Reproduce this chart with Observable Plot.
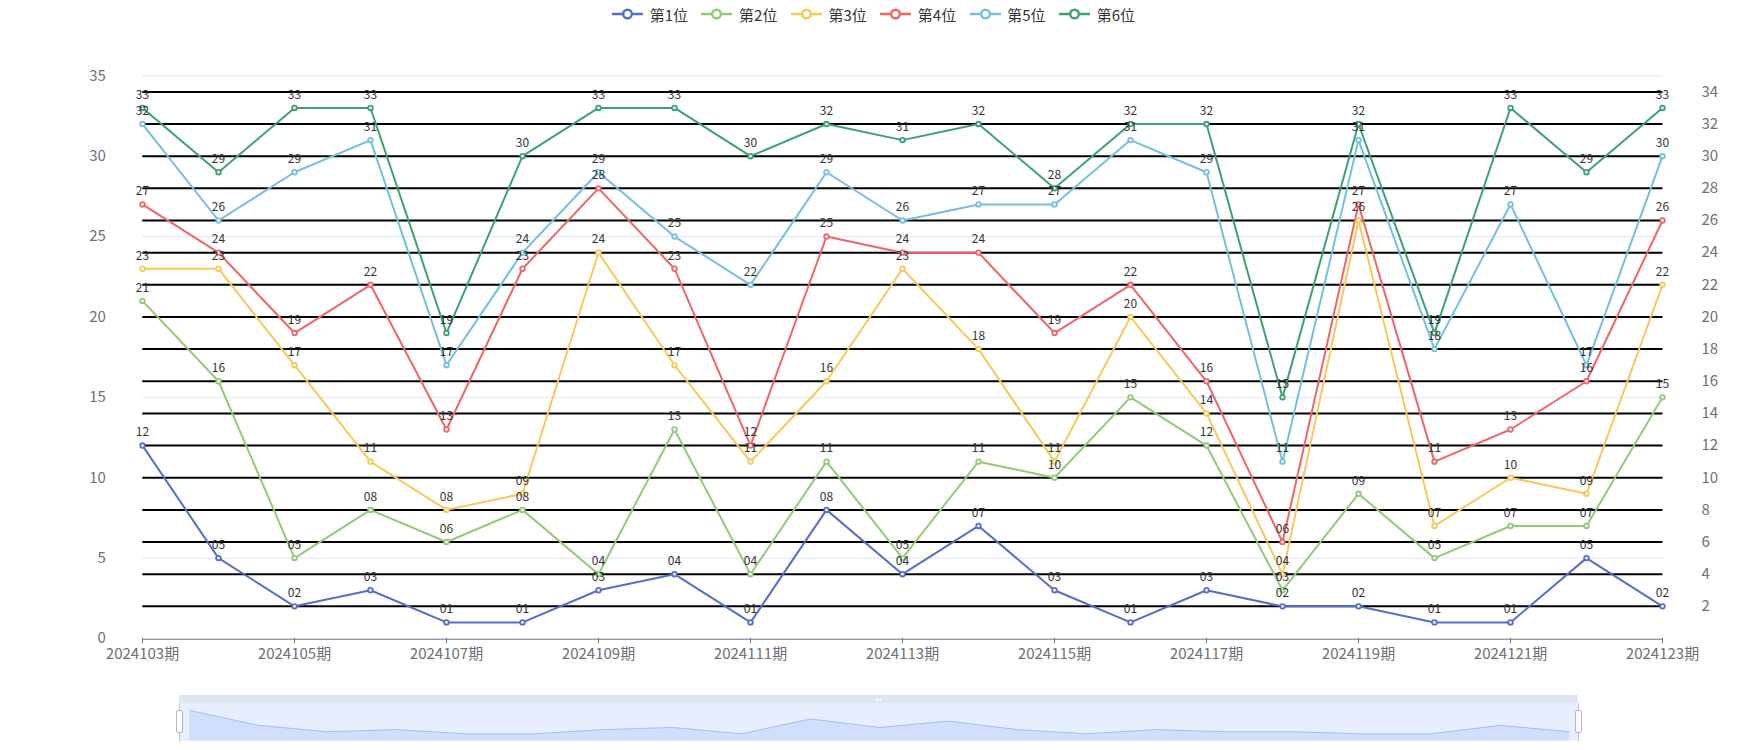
<!DOCTYPE html>
<html>
<head>
<meta charset="utf-8">
<script src="https://cdn.jsdelivr.net/npm/d3@7"></script>
<script src="https://cdn.jsdelivr.net/npm/@observablehq/plot@0.6"></script>
<style>
  html, body { margin: 0; padding: 0; background: #fff; }
  body { width: 1750px; height: 750px; overflow: hidden; position: relative;
         font-family: "Microsoft YaHei", "Noto Sans CJK SC", sans-serif; }
  #legend { position: absolute; left: 612px; top: 0; height: 28px; display: flex; align-items: center; }
  .item { display: flex; align-items: center; width: 89.4px; font-size: 15px; color: #333; white-space: nowrap; }
  .item svg { margin-right: 6.7px; flex: none; }
  #chart { position: absolute; left: 0; top: 0; }
  .abs { position: absolute; box-sizing: border-box; }
</style>
</head>
<body>
<div id="legend"></div>
<div id="chart"></div>
<div id="zoom"></div>
<script>
// ---- data ----
const periods = ["2024103期","2024104期","2024105期","2024106期","2024107期","2024108期","2024109期",
  "2024110期","2024111期","2024112期","2024113期","2024114期","2024115期","2024116期","2024117期",
  "2024118期","2024119期","2024120期","2024121期","2024122期","2024123期"];
const seriesNames = ["第1位","第2位","第3位","第4位","第5位","第6位"];
const seriesColors = ["#5470c6","#91cc75","#fac858","#ee6666","#73c0de","#3ba272"];
const pos1 = [12, 5, 2, 3, 1, 1, 3, 4, 1, 8, 4, 7, 3, 1, 3, 2, 2, 1, 1, 5, 2];
const pos2 = [21,16, 5, 8, 6, 8, 4,13, 4,11, 5,11,10,15,12, 3, 9, 5, 7, 7,15];
const pos3 = [23,23,17,11, 8, 9,24,17,11,16,23,18,11,20,14, 4,26, 7,10, 9,22];
const pos4 = [27,24,19,22,13,23,28,23,12,25,24,24,19,22,16, 6,27,11,13,16,26];
const pos5 = [32,26,29,31,17,24,29,25,22,29,26,27,27,31,29,11,31,18,27,17,30];
const pos6 = [33,29,33,33,19,30,33,33,30,32,31,32,28,32,32,15,32,19,33,29,33];
const xTicks = ["2024103期","2024105期","2024107期","2024109期","2024111期","2024113期",
  "2024115期","2024117期","2024119期","2024121期","2024123期"];
const leftTicks = [0, 5, 10, 15, 20, 25, 30, 35];
const rightTicks = [2, 4, 6, 8, 10, 12, 14, 16, 18, 20, 22, 24, 26, 28, 30, 32, 34];

const seriesValues = [pos1, pos2, pos3, pos4, pos5, pos6];
const rows = seriesValues.flatMap((vals, s) =>
  vals.map((v, i) => ({ period: periods[i], value: v, series: seriesNames[s] })));

const FONT = '"Microsoft YaHei", "Noto Sans CJK SC", sans-serif';

// ---- legend ----
const legend = document.getElementById("legend");
seriesNames.forEach((name, i) => {
  const c = seriesColors[i];
  const item = document.createElement("div");
  item.className = "item";
  item.innerHTML = `<svg width="31" height="14"><line x1="0" x2="31" y1="7" y2="7" stroke="${c}" stroke-width="2.5"/>` +
    `<circle cx="15.5" cy="7" r="4.3" fill="#fff" stroke="${c}" stroke-width="2.4"/></svg><span>${name}</span>`;
  legend.appendChild(item);
});

// ---- main chart ----
const chart = Plot.plot({
  width: 1750,
  height: 680,
  marginLeft: 142.3,
  marginRight: 87.5,
  marginTop: 75.3,
  marginBottom: 42,
  style: { fontFamily: FONT, fontSize: "12px", background: "transparent", overflow: "visible" },
  x: { type: "point", domain: periods, padding: 0 },
  y: { domain: [0, 35] },
  color: { domain: seriesNames, range: seriesColors },
  marks: [
    Plot.ruleY(leftTicks.filter(d => d > 0), { stroke: "#E0E6F1", strokeWidth: 1 }),
    Plot.ruleY(rightTicks, { stroke: "#000", strokeWidth: 2 }),
    Plot.ruleY([0], { stroke: "#6E7079", strokeWidth: 1, dy: 0.7 }),
    Plot.axisY({ ticks: leftTicks, tickSize: 0, tickPadding: 37, fontSize: 15, fill: "#6E7079", label: null }),
    Plot.axisY({ anchor: "right", ticks: rightTicks, tickSize: 0, tickPadding: 38.5, fontSize: 15, fill: "#6E7079", label: null }),
    Plot.axisX({ ticks: xTicks, tickSize: 5, tickPadding: 5, fontSize: 15, fill: "#6E7079", stroke: "#6E7079", label: null }),
    Plot.line(rows, { x: "period", y: "value", z: "series", stroke: "series", strokeWidth: 2 }),
    Plot.dot(rows, { x: "period", y: "value", stroke: "series", fill: "#fff", r: 2.3, strokeWidth: 1.8 }),
    Plot.text(rows, { x: "period", y: "value", text: d => String(d.value).padStart(2, "0"),
      dy: -13, fontSize: 12, fill: "#333" })
  ]
});
document.getElementById("chart").appendChild(chart);

// ---- data zoom slider ----
const zoom = document.getElementById("zoom");
const SL = 179, SR = 1578, MOVE_TOP = 695, BODY_TOP = 703.3, BODY_BOTTOM = 740.7;
function box(style) {
  const d = document.createElement("div");
  d.className = "abs";
  Object.assign(d.style, style);
  zoom.appendChild(d);
  return d;
}
box({ left: SL + "px", top: MOVE_TOP + "px", width: (SR - SL) + "px", height: (BODY_TOP - MOVE_TOP) + "px", background: "#dfe5f2" });
box({ left: SL + "px", top: BODY_TOP + "px", width: (SR - SL) + "px", height: (BODY_BOTTOM - BODY_TOP) + "px", background: "#e7eefe" });
// grip on the move bar
const mid = (SL + SR) / 2;
[-2, 0, 2].forEach(o => box({ left: (mid + o - 0.5) + "px", top: (MOVE_TOP + 2.5) + "px", width: "1px", height: "3.5px", background: "#fff" }));

const ext = d3.extent(pos1);
const pad = (ext[1] - ext[0]) * 0.3;
const shadowRows = periods.map((p, i) => ({ period: p, value: pos1[i] }));
const slider = Plot.plot({
  width: 1750,
  height: BODY_BOTTOM - BODY_TOP,
  marginLeft: SL,
  marginRight: 1750 - SR,
  marginTop: 0,
  marginBottom: 0,
  style: { background: "transparent", overflow: "visible" },
  x: { type: "point", domain: periods, padding: 0, axis: null },
  y: { domain: [ext[0] - pad, ext[1] + pad], axis: null },
  marks: [
    Plot.areaY(shadowRows, { x: "period", y1: ext[0] - pad, y2: "value", fill: "#8fb0f7", fillOpacity: 0.25 }),
    Plot.lineY(shadowRows, { x: "period", y: "value", stroke: "#a6bff5", strokeWidth: 1 })
  ]
});
const sw = document.createElement("div");
sw.className = "abs";
sw.style.left = "0px";
sw.style.top = BODY_TOP + "px";
sw.appendChild(slider);
zoom.appendChild(sw);

// edge lines and handles
[SL, SR].forEach(x => {
  box({ left: (x - 0.5) + "px", top: BODY_TOP + "px", width: "1px", height: (BODY_BOTTOM - BODY_TOP) + "px", background: "#b9c5df" });
  box({ left: (x - 3.5) + "px", top: "710px", width: "7px", height: "23.3px", background: "#fff",
        border: "1px solid #acb8d1", borderRadius: "2px" });
});
</script>
</body>
</html>
